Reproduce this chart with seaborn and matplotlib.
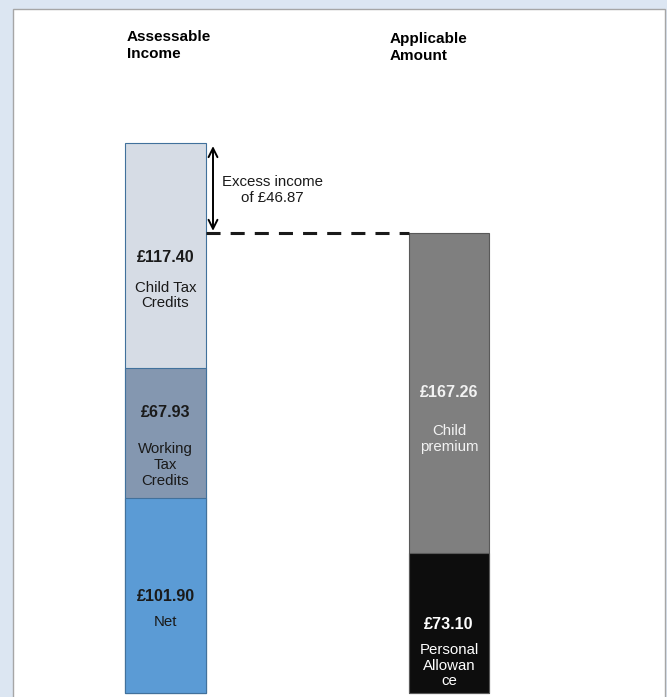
import matplotlib
matplotlib.use("Agg")
import matplotlib.pyplot as plt
import matplotlib.patches as mpatches
import seaborn as sns
import pandas as pd

# Weekly amounts (£) making up each side of the calculation
sides = ["Assessable Income", "Applicable Amount"]
headers = ["Assessable\nIncome", "Applicable\nAmount"]
income_parts = ["Net", "Working\nTax\nCredits", "Child Tax\nCredits"]
income_values = [101.90, 67.93, 117.40]
amount_parts = ["Personal\nAllowan\nce", "Child\npremium"]
amount_values = [73.10, 167.26]

income_colors = ["#5b9bd5", "#8497b0", "#d6dce5"]
amount_colors = ["#0d0d0d", "#7f7f7f"]
income_text = ["#1a1a1a", "#1a1a1a", "#1a1a1a"]
amount_text = ["#ffffff", "#f2f2f2"]
edge_colors = {"Assessable Income": "#41719c", "Applicable Amount": "#595959"}

# label placement relative to the middle of each segment (pixels)
value_offsets = [-1, 20, -2, -1.5, 0]
name_offsets = [-27, -32, -40, -43, -46]

rows = []
for side, parts, vals, cols, tcols in [
    (sides[0], income_parts, income_values, income_colors, income_text),
    (sides[1], amount_parts, amount_values, amount_colors, amount_text),
]:
    base = 0.0
    for p, v, c, tc in zip(parts, vals, cols, tcols):
        rows.append(dict(side=side, part=p, value=v, bottom=base,
                         top=base + v, color=c, text=tc))
        base += v
df = pd.DataFrame(rows)
df["value_off"] = value_offsets
df["name_off"] = name_offsets

W, H, DPI = 667, 697, 100
fig = plt.figure(figsize=(W / DPI, H / DPI), dpi=DPI)
fig.patch.set_facecolor("#dce6f2")
plt.rcParams["font.family"] = ["Liberation Sans", "DejaVu Sans"]

panel = mpatches.Rectangle((13 / W, -0.02), (665 - 13) / W, 1 - 9 / H + 0.02,
                           transform=fig.transFigure, facecolor="white",
                           edgecolor="#a6a6a6", linewidth=1.0, zorder=-1)
fig.add_artist(panel)

ax = fig.add_axes([0, 0, 1, 1])
ax.set_facecolor("none")

bar_w = 0.2857
# stacked bars: draw cumulative tops from tallest to shortest
for _, r in df.sort_values("top", ascending=False).iterrows():
    sns.barplot(x=[r["side"]], y=[r["top"]], order=sides, color=r["color"],
                saturation=1, width=bar_w, errorbar=None,
                edgecolor=edge_colors[r["side"]], linewidth=0.8, ax=ax)

# map data to the canvas
px_per_unit = 1.912
x0_px, spacing_px = 165.5, 283.5
ax.set_xlim(-x0_px / spacing_px, (W - x0_px) / spacing_px)
ax.set_ylim(-4.5 / px_per_unit, (H - 4.5) / px_per_unit)
ax.axis("off")

# segment labels
for _, r in df.iterrows():
    xi = sides.index(r["side"])
    mid = (r["bottom"] + r["top"]) / 2
    ax.annotate(f"£{r['value']:.2f}", xy=(xi, mid),
                xytext=(0, r["value_off"]), textcoords="offset pixels",
                ha="center", va="center", fontsize=11.6, fontweight="bold",
                color=r["text"])
    ax.annotate(r["part"], xy=(xi, mid),
                xytext=(0, r["name_off"]), textcoords="offset pixels",
                ha="center", va="center", fontsize=10.8, color=r["text"],
                linespacing=1.17)

income_total = sum(income_values)
amount_total = sum(amount_values)
excess = income_total - amount_total

# dashed level of the applicable amount
ax.plot([bar_w / 2, 1 - bar_w / 2], [amount_total, amount_total],
        color="#1a1a1a", linewidth=2.2, linestyle=(0, (4.6, 3.3)),
        solid_capstyle="butt", dash_capstyle="butt")

# double arrow marking the excess
arrow_x = (213 - x0_px) / spacing_px
ax.annotate("", xy=(arrow_x, income_total), xytext=(arrow_x, amount_total),
            arrowprops=dict(arrowstyle="<->", color="black", lw=1.4,
                            shrinkA=1.5, shrinkB=2, mutation_scale=16))
ax.annotate(f"Excess income\nof £{excess:.2f}",
            xy=((272 - x0_px) / spacing_px, (income_total + amount_total) / 2),
            xytext=(0, -2), textcoords="offset pixels",
            ha="center", va="center", fontsize=10.8, color="#1a1a1a",
            linespacing=1.17)

# column headings
fig.text(127 / W, 1 - 30 / H, headers[0], ha="left", va="top",
         fontsize=11, fontweight="bold", color="black", linespacing=1.25)
fig.text(390 / W, 1 - 32 / H, headers[1], ha="left", va="top",
         fontsize=11, fontweight="bold", color="black", linespacing=1.25)

fig.savefig("out.png", dpi=DPI, facecolor=fig.get_facecolor())
